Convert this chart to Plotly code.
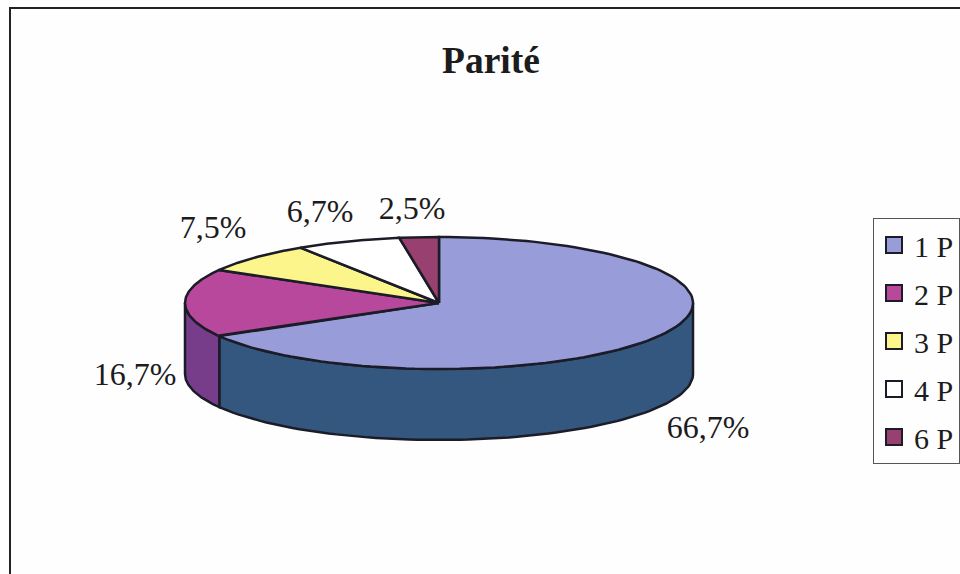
import numpy as np
import plotly.graph_objects as go

# Données
categories = ["1 P", "2 P", "3 P", "4 P", "6 P"]
shares = [66.7, 16.7, 7.5, 6.7, 2.5]
share_labels = ["66,7%", "16,7%", "7,5%", "6,7%", "2,5%"]

# Palette
TOP_COLORS = ["#989dda", "#b8489b", "#fbf58c", "#ffffff", "#98406f"]
WALL_COLORS = ["#34577f", "#773c8a", "#a8a35c", "#aaaaaa", "#652b4a"]
LINE = "#1c1c28"
FONT = "Liberation Serif"

# Géométrie du camembert en perspective (pixels de la page)
CX, CY = 439, 303
RX, RY = 254, 66
DEPTH = 71
LABEL_POS = [(708, 430), (135, 377), (213, 230), (320, 214), (412, 211)]


def rim(theta, drop=0.0):
    return CX + RX * np.sin(theta), CY - RY * np.cos(theta) + drop


fig = go.Figure()

bounds = np.radians(np.cumsum([0] + shares) / sum(shares) * 360)

# Flanc visible : seulement l'avant de l'ellipse
for i, (start, end) in enumerate(zip(bounds[:-1], bounds[1:])):
    a, b = max(start, np.pi / 2), min(end, 3 * np.pi / 2)
    if a >= b:
        continue
    th = np.linspace(a, b, 80)
    x_top, y_top = rim(th)
    x_bot, y_bot = rim(th[::-1], DEPTH)
    fig.add_trace(go.Scatter(
        x=np.r_[x_top, x_bot, x_top[0]], y=np.r_[y_top, y_bot, y_top[0]],
        mode="lines", fill="toself", fillcolor=WALL_COLORS[i],
        line=dict(color=LINE, width=2.5), showlegend=False, hoverinfo="skip",
    ))

# Dessus
for i, (start, end) in enumerate(zip(bounds[:-1], bounds[1:])):
    th = np.linspace(start, end, 120)
    x_arc, y_arc = rim(th)
    fig.add_trace(go.Scatter(
        x=np.r_[CX, x_arc, CX], y=np.r_[CY, y_arc, CY],
        mode="lines", fill="toself", fillcolor=TOP_COLORS[i],
        line=dict(color=LINE, width=2.5), showlegend=False,
        name=categories[i], hoverinfo="name",
    ))

# Étiquettes de pourcentage
fig.add_trace(go.Scatter(
    x=[p[0] for p in LABEL_POS], y=[p[1] for p in LABEL_POS],
    mode="text", text=share_labels, textposition="middle center",
    textfont=dict(family=FONT, size=32, color="#1c1c1c"),
    showlegend=False, hoverinfo="skip",
))

# Légende
for i, cat in enumerate(categories):
    fig.add_trace(go.Scatter(
        x=[None], y=[None], mode="markers", name=cat, legendgroup=cat,
        marker=dict(symbol="square", size=18, color=TOP_COLORS[i],
                    line=dict(color=LINE, width=2)),
    ))

fig.update_layout(
    width=960, height=574,
    margin=dict(l=0, r=0, t=0, b=0, autoexpand=False),
    paper_bgcolor="#fefefe", plot_bgcolor="rgba(0,0,0,0)",
    title=dict(text="<b>Parité</b>", x=491 / 960, xanchor="center",
               y=1 - 60 / 574, yanchor="middle",
               font=dict(family=FONT, size=37.5, color="#1c1c1c")),
    xaxis=dict(range=[0, 960], visible=False, fixedrange=True),
    yaxis=dict(range=[574, 0], visible=False, fixedrange=True),
    legend=dict(x=873 / 960, xanchor="left", y=1 - 218 / 574, yanchor="top",
                bgcolor="rgba(0,0,0,0)", bordercolor="#555555", borderwidth=1,
                font=dict(family=FONT, size=30, color="#1c1c1c"),
                tracegroupgap=6, itemwidth=30),
    shapes=[dict(type="rect", xref="paper", yref="paper",
                 x0=10 / 960, x1=1.02, y0=-0.02, y1=1 - 8 / 574,
                 line=dict(color="#222222", width=2))],
)

# Le navigateur ajoute une marge de 8 px autour du graphique
fig.write_html("out.html", config={"displayModeBar": False},
               post_script="document.body.style.margin = '0';")
